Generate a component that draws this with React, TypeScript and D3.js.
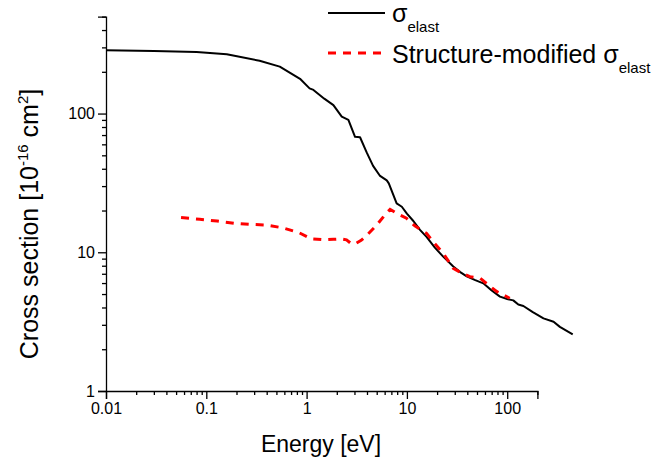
import React, { useEffect, useRef } from "react";
import * as d3 from "d3";

// elastic cross section (black solid)
const energyElast = [
  0.01, 0.03, 0.08, 0.16, 0.34, 0.54, 0.86, 1.07, 1.17, 1.5, 1.85, 2.24, 2.61,
  3.04, 3.41, 3.97, 4.6, 5.4, 6.3, 6.6, 7.9, 8.9, 10, 11.6, 13.5, 15.7, 19, 23,
  29, 34, 39.5, 48, 57.8, 70, 84.7, 100, 115, 129, 145, 180, 230, 290, 335, 450,
];
const sigmaElast = [
  286, 283, 278, 268, 240, 218, 178, 152, 148, 128, 115, 95, 90, 68, 67.5, 52.5,
  42, 35.5, 33, 31.4, 22.5, 21.3, 19, 16.8, 14.5, 12.9, 10.8, 9.3, 7.9, 7.2,
  6.7, 6.3, 5.97, 5.3, 4.79, 4.6, 4.5, 4.2, 4.1, 3.7, 3.34, 3.16, 2.9, 2.56,
];

// structure-modified cross section (red dashed)
const energyMod = [
  0.056, 0.086, 0.128, 0.19, 0.27, 0.4, 0.58, 0.83, 1.12, 1.5, 1.85, 2.2, 2.5,
  2.8, 3.1, 3.5, 4.0, 5.0, 6.0, 6.8, 8.0, 9.9, 12, 15.7, 19, 23, 29, 35, 42.5,
  54, 65, 79, 106,
];
const sigmaMod = [
  17.8, 17.3, 16.8, 16.2, 15.9, 15.7, 15.0, 13.9, 12.5, 12.3, 12.4, 12.5, 12.3,
  11.5, 11.6, 12.2, 13.3, 15.7, 18.5, 20.4, 19.0, 17.6, 15.5, 13.7, 11.5, 9.84,
  7.65, 7.1, 6.67, 6.49, 5.8, 5.2, 4.66,
];

const xMajor = [0.01, 0.1, 1, 10, 100];
const xMajorLabels = ["0.01", "0.1", "1", "10", "100"];
const yMajor = [1, 10, 100];
const yMajorLabels = ["1", "10", "100"];

const FONT = "'Liberation Sans', Arial, sans-serif";

const App = () => {
  const svgRef = useRef<SVGSVGElement>(null);

  useEffect(() => {
    document.body.style.margin = "0";
    const svg = d3.select(svgRef.current);
    svg.selectAll("*").remove();

    const x = d3.scaleLog().domain([0.01, 200]).range([106, 537.4]);
    const y = d3.scaleLog().domain([1, 500]).range([391, 16.6]);

    // x axis
    const xMinor = x.ticks().filter((t) => !xMajor.some((m) => Math.abs(m - t) < 1e-9));
    const gx = svg.append("g").attr("transform", "translate(0,391)");
    gx.call(
      d3
        .axisBottom(x)
        .tickValues(xMajor)
        .tickSize(8)
        .tickPadding(4)
        .tickFormat((_, i) => xMajorLabels[i])
    );
    gx.append("g")
      .call(d3.axisBottom(x).tickValues(xMinor).tickSize(4).tickFormat(() => ""))
      .select(".domain")
      .remove();
    gx.selectAll("text").attr("font-size", 16).attr("font-family", FONT).attr("fill", "#000");

    // y axis
    const yMinor = y.ticks().filter((t) => !yMajor.some((m) => Math.abs(m - t) < 1e-9));
    const gy = svg.append("g").attr("transform", "translate(106,0)");
    gy.call(
      d3
        .axisLeft(y)
        .tickValues(yMajor)
        .tickSize(8)
        .tickPadding(3)
        .tickFormat((_, i) => yMajorLabels[i])
    );
    gy.append("g")
      .call(d3.axisLeft(y).tickValues(yMinor).tickSize(4).tickFormat(() => ""))
      .select(".domain")
      .remove();
    gy.selectAll("text").attr("font-size", 16).attr("font-family", FONT).attr("fill", "#000");

    svg.selectAll(".domain").attr("stroke", "#000").attr("stroke-width", 1.3);
    svg.selectAll(".tick line").attr("stroke", "#000").attr("stroke-width", 1.3);

    // titles
    svg
      .append("text")
      .attr("x", 321)
      .attr("y", 452)
      .attr("text-anchor", "middle")
      .attr("font-size", 23)
      .attr("font-family", FONT)
      .text("Energy [eV]");

    const yt = svg
      .append("text")
      .attr("transform", "translate(38,224) rotate(-90)")
      .attr("text-anchor", "middle")
      .attr("font-size", 25)
      .attr("font-family", FONT);
    yt.append("tspan").text("Cross section [10");
    yt.append("tspan").attr("font-size", 15).attr("dy", -10).text("-16");
    yt.append("tspan").attr("dy", 10).text(" cm");
    yt.append("tspan").attr("font-size", 15).attr("dy", -10).text("2");
    yt.append("tspan").attr("dy", 10).text("]");

    // curves (not clipped to the axis frame, like the original)
    const line = d3
      .line<[number, number]>()
      .x((d) => x(d[0]))
      .y((d) => y(d[1]));

    svg
      .append("path")
      .datum(energyElast.map((e, i) => [e, sigmaElast[i]] as [number, number]))
      .attr("d", line)
      .attr("fill", "none")
      .attr("stroke", "#000")
      .attr("stroke-width", 2)
      .attr("stroke-linejoin", "round");

    svg
      .append("path")
      .datum(energyMod.map((e, i) => [e, sigmaMod[i]] as [number, number]))
      .attr("d", line)
      .attr("fill", "none")
      .attr("stroke", "#ff0000")
      .attr("stroke-width", 3)
      .attr("stroke-dasharray", "8 7");

    // legend
    const legend = [
      { label: "", y: 13, color: "#000", dash: null as string | null, width: 2, textY: 22 },
      { label: "Structure-modified ", y: 53, color: "#ff0000", dash: "8 7", width: 3, textY: 63 },
    ];
    legend.forEach((l) => {
      svg
        .append("line")
        .attr("x1", 328)
        .attr("x2", 385)
        .attr("y1", l.y)
        .attr("y2", l.y)
        .attr("stroke", l.color)
        .attr("stroke-width", l.width)
        .attr("stroke-dasharray", l.dash);
      const t = svg
        .append("text")
        .attr("x", 392)
        .attr("y", l.textY)
        .attr("font-size", 25)
        .attr("font-family", FONT);
      t.append("tspan").text(l.label + "σ");
      t.append("tspan").attr("font-size", 15).attr("dy", 10).text("elast");
    });
  }, []);

  return (
    <svg
      ref={svgRef}
      width={654}
      height={460}
      style={{ position: "absolute", left: 0, top: 0, background: "#fff" }}
    />
  );
};

export default App;
